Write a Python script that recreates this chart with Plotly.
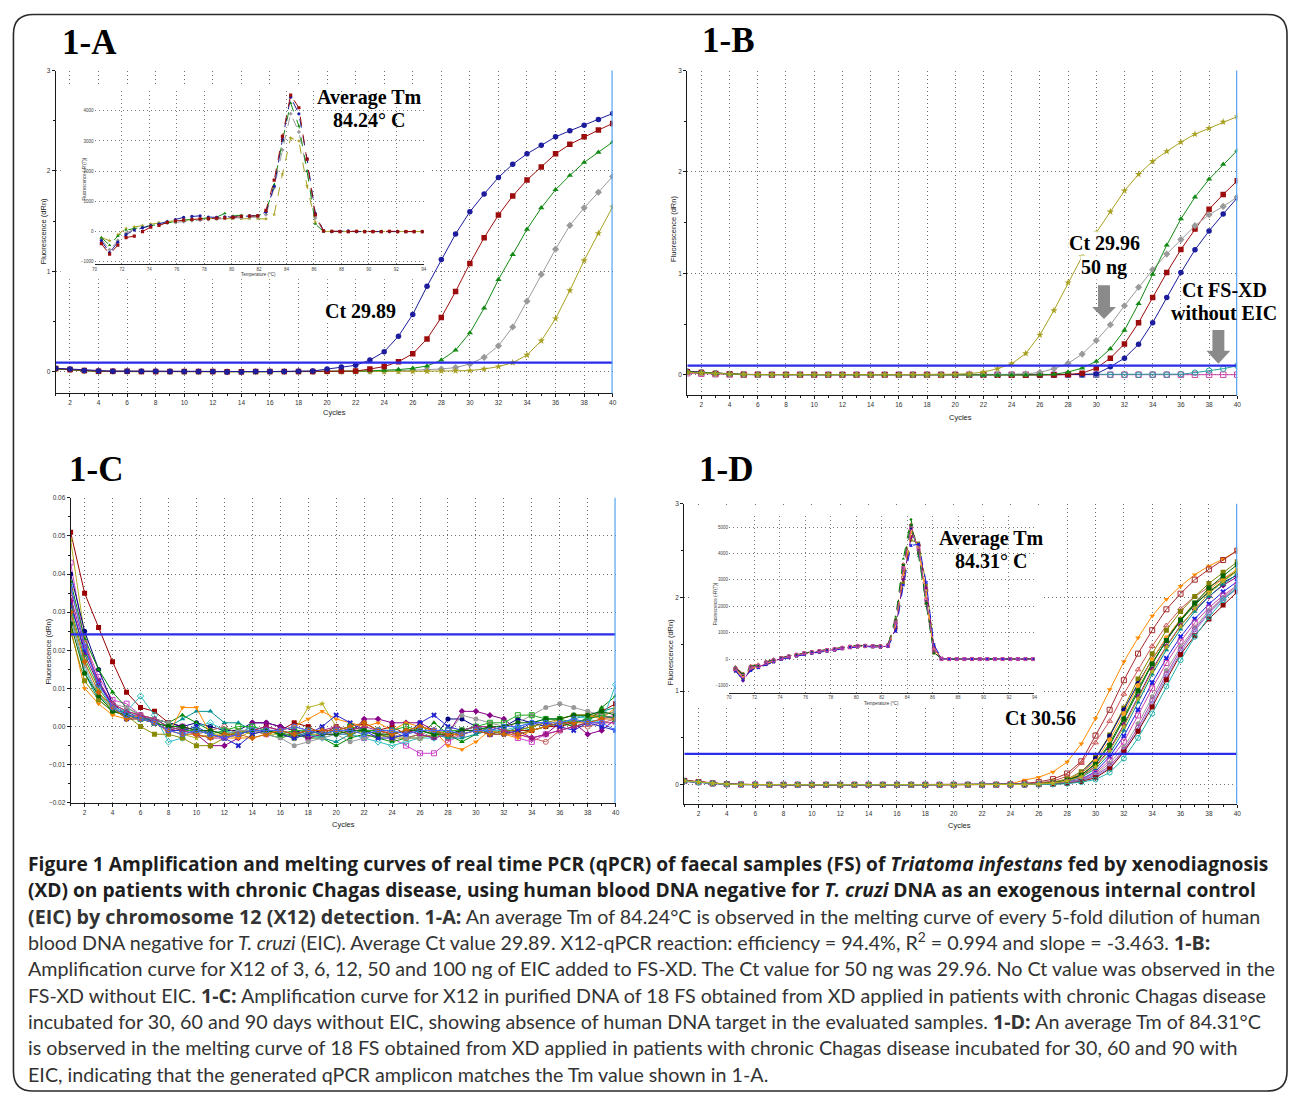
import plotly.graph_objects as go

W, H = 1293, 1095
def PX(x): return x / W
def PY(y): return 1 - y / H

CYCLES = list(range(1, 41))
TEMPS = [70.5, 71.1, 71.7, 72.3, 72.9, 73.5, 74.1, 74.7, 75.3, 75.9,
         76.5, 77.1, 77.7, 78.3, 78.9, 79.5, 80.1, 80.7, 81.3, 81.9,
         82.5, 83.1, 83.7, 84.3, 84.9, 85.5, 86.1, 86.7, 87.3, 87.9,
         88.5, 89.1, 89.7, 90.3, 90.9, 91.5, 92.1, 92.7, 93.3, 93.9]

# ---------------- Panel 1-A : amplification (milli-dRn) ----------------
A_blue = [33,26,12,5,4,4,3,3,2,2, 2,2,-4,-3,1,1,0,4,6,26, 46,63,115,198,353,570,850,1118,1372,1593,
          1770,1935,2067,2170,2255,2340,2400,2456,2512,2572]
A_red = [30,22,10,4,4,3,2,2,1,1, 0,0,-2,-2,0,1,1,2,2,4, 6,5,26,50,99,178,326,540,798,1078,
         1335,1560,1750,1910,2040,2170,2265,2340,2407,2473]
A_green = [28,20,8,3,3,2,1,1,0,0, 0,-1,-2,-1,0,0,0,0,1,2, 3,5,8,13,20,33,56,115,214,386,
           633,917,1167,1418,1632,1813,1955,2084,2186,2288]
A_gray = [26,18,7,2,2,1,1,0,0,-1, -1,-1,-2,-2,-1,0,0,0,0,1, 2,3,4,6,9,14,18,26,40,76,
          142,257,445,702,969,1220,1457,1632,1787,1945]
A_olive = [28,18,6,1,0,-1,-2,-2,-2,-3, -3,-3,-3,-3,-2,-2,-2,-2,-2,-1, -1,0,0,1,2,3,4,6,8,10,
           26,50,89,165,307,528,808,1108,1378,1642]
A_THRESHOLD = 0.09

# Panel 1-A inset : melting curves (-R'(T))
AM_blue = [-300,-700,-350,-100,50,120,200,250,330,400, 470,500,520,480,470,490,480,500,520,530,
           650,1500,3050,4450,3900,2400,600,20,0,10, 20,0,0,10,0,0,10,0,0,0]
AM_red = [-400,-750,-450,-200,-150,0,150,200,300,350, 380,400,420,430,440,450,470,500,510,520,
          700,1700,3150,4520,4100,2400,550,20,10,0, 0,10,0,0,0,10,0,0,0,0]
AM_green = [-200,-450,-150,50,100,150,200,250,300,330, 380,400,420,440,480,600,520,540,530,520,
            640,1550,3000,4250,3500,2000,250,0,0,0, 0,0,10,0,0,0,0,0,0,0]
AM_gray = [-250,-600,-300,-50,80,150,200,250,280,300, 330,360,380,400,420,440,450,460,470,480,
           560,1450,2700,3900,3300,2000,450,10,0,0, 0,0,0,0,0,0,0,0,0,0]
AM_olive = [-200,-300,-100,100,150,200,250,300,330,360, 380,400,420,430,430,430,430,430,430,430,
            420,570,1900,3100,3000,1500,300,0,0,0, 0,0,0,0,0,0,0,0,0,0]

# ---------------- Panel 1-B ----------------
B_olive = [22,16,10,6,3,1,0,0,0,0, 0,0,0,0,0,0,0,-1,0,5, 10,26,59,108,209,392,634,908,1167,1402,
           1608,1814,1977,2105,2203,2294,2373,2431,2493,2546]
B_gray = [25,18,10,5,2,1,0,0,0,0, 0,0,0,0,0,-1,-1,-2,-2,-3, -2,-1,0,2,8,23,59,111,203,337,
          493,680,863,1036,1190,1333,1470,1578,1660,1752]
B_green = [28,20,12,6,3,1,0,0,0,0, 0,0,0,0,0,-1,-2,-3,-4,-5, -5,-6,-7,-5,-3,-1,3,26,65,131,
           255,438,700,990,1278,1536,1752,1928,2075,2212]
B_red = [30,22,12,6,3,1,0,0,0,0, 0,0,0,0,0,0,-1,-1,-2,-3, -3,-4,-5,-6,-5,-3,-2,2,15,65,
         163,304,513,761,1007,1235,1438,1631,1778,1912]
B_blue = [35,25,14,7,3,1,0,0,0,0, 0,0,0,0,0,0,0,-1,-2,-3, -3,-2,-2,-3,-4,-3,-2,0,2,7,
          78,163,300,513,761,1007,1232,1418,1585,1745]
B_teal = [30,22,13,6,2,0,0,0,0,0, 0,0,0,0,0,0,0,0,0,0, 0,0,0,0,0,0,0,0,0,0,
          0,0,0,0,0,5,20,40,59,88]
B_magenta = [15,10,5,2,0,0,0,0,0,0, 0,0,0,0,0,0,0,0,0,0, 0,0,0,0,0,0,0,0,0,0,
             0,0,0,0,0,0,0,0,0,0]
B_THRESHOLD = 0.09

# ---------------- Panel 1-C (18 FS without EIC) ----------------
C1 = [51,35,26,17,9,5,4,1,0,-1, -2,-3,-2,-1,0,-1,1,0,-2,0, -1,1,-1,0,-2,0,-1,-3,-1,0, -2,-1,-1,-1,0,0,1,2,4,6]
C2 = [49,24,9,4,3,2,1,-1,-2,-3, -2,-2,-3,-1,-2,-2,-1,5,6,0, -1,-2,-3,-2,-1,0,-1,-2,-1,0, -1,-2,-1,0,1,0,2,1,2,3]
C3 = [43,22,13,7,6,3,1,-1,0,-1, -2,-3,-2,-1,-2,-1,-2,-3,-2,-1, -2,-3,-2,-3,-5,-7,-7,-4,-2,-1, -2,-1,-3,-4,-2,-1,0,1,2,3]
C4 = [40,25,15,6,3,2,2,1,0,1, 0,-1,-1,1,1,0,-1,-2,-1,-1, -2,-1,-1,-2,-1,-2,-3,2,2,0, -1,0,2,1,0,1,1,2,3,2]
C5 = [38,23,15,9,5,3,2,1,3,1, -1,-2,-1,-1,-2,-3,-2,-3,-3,-5, -3,-2,-3,-4,-3,-2,1,-2,-4,-2, 0,-1,-2,-1,0,1,0,1,5,8]
C6 = [36,22,11,6,4,3,1,-1,-1,-2, -1,0,-2,-1,-2,-1,0,-1,-2,-1, 0,-1,-2,-1,-3,-2,-1,-3,-2,-1, 0,-1,-2,-3,-4,-1,0,0,1,2]
C7 = [33,19,11,6,3,3,1,-1,0,-2, -5,-5,-3,1,1,0,-1,-3,-2,-2, -2,2,2,1,1,1,-1,-2,4,4, 3,2,-1,-3,-2,1,1,-2,-1,2]
C8 = [30,14,7,4,4,2,2,0,2,4, 4,1,1,-1,-1,-1,-2,-2,-3,-4, -2,-1,-2,-3,-2,-1,-2,-3,-3,-2, -1,-2,0,-1,0,1,2,3,4,5]
C9 = [29,15,8,5,4,8,3,-4,-3,0, 1,-1,-2,0,-1,-2,-3,-2,-3,-2, -2,-3,-4,-5,-4,-3,-3,-2,-1,0, -1,-1,0,1,2,2,3,2,1,11]
C10 = [26,10,6,3,2,3,2,-2,5,5, -2,-3,-3,-3,-2,-1,0,2,4,2, 1,0,1,-1,1,0,-1,-5,-6,-4, -1,-2,-3,-1,0,2,3,3,2,5]
C11 = [25,12,7,4,3,0,-2,-2,-3,-5, -5,-3,-1,-2,-1,-2,-3,-2,-2,-1, -2,-1,-2,-3,-3,-3,-2,-2,-2,-1, -2,-1,-1,0,1,2,3,3,3,4]
C12 = [28,16,8,6,5,3,2,1,-1,-2, -1,-2,-1,-1,-2,-3,-5,-4,-3,-2, -4,-3,-2,-2,-3,-3,-1,-2,3,2, 1,0,1,3,5,6,5,4,3,4]
C13 = [32,20,12,5,2,2,1,-1,-1,0, -2,-3,-5,-2,-1,-2,-3,-2,0,3, 1,-1,-3,-3,-2,1,3,0,-1,-1, -2,-2,-1,1,1,0,-1,1,0,-1]
C14 = [31,18,10,5,3,2,1,0,-1,-1, -2,-1,0,0,-1,-2,-1,-1,-2,-1, 0,-1,-1,-1,0,-1,-2,-1,-1,0, 1,1,3,3,2,2,1,2,3,2]
C15 = [34,21,12,6,4,3,2,0,-1,-2, -3,-3,-2,-1,0,-1,-2,-1,-1,0, -1,0,-1,-2,-1,-2,-3,-2,-1,0, 0,-1,-2,-3,-2,-1,0,1,1,1]
C16 = [27,14,8,4,3,2,1,0,0,-1, -1,-2,-2,-1,-1,-2,-2,-1,-2,-2, -1,-1,-2,-2,-1,-1,-2,-2,-1,-1, 0,0,1,1,2,2,3,3,4,3]
C17 = [30,17,9,5,2,2,1,-1,-2,-2, -3,-2,-2,-3,-2,-1,-2,-1,-1,-1, 0,1,-1,-2,-1,0,-1,-2,-2,-1, -2,-2,-2,-1,0,1,1,1,2,2]
C18 = [37,21,11,5,3,2,1,-1,-2,-1, -2,-3,-2,-1,-1,-1,0,-1,-2,-1, -1,-2,-1,-1,-2,-1,-1,-1,-2,-1, -1,0,0,1,1,1,2,1,1,-1]
C_THRESHOLD = 0.0242

# ---------------- Panel 1-D (18 FS with EIC) ----------------
D1 = [45,30,16,6,3,1,0,0,0,0, -1,-1,0,0,-1,0,0,0,-2,-2, 0,0,2,8, 50,80,137,243,437,708,1018,1313,1570,1803,1980,2120,2243,2335,2410,2500]
D2 = [40,28,14,6,3,1,0,0,0,0, 0,-1,0,0,0,0,-1,0,-1,0, 0,0,1,5, 15,30,60,120,250,525,800,1116,1400,1650,1873,2040,2190,2300,2400,2500]
D3 = [42,27,15,7,3,2,0,0,0,-1, 0,0,0,-1,0,0,0,0,-1,0, 0,0,1,3, 10,20,40,90,230,450,680,970,1230,1480,1700,1880,2010,2110,2200,2280]
D4 = [38,26,14,6,2,1,0,0,0,0, 0,0,-1,0,0,0,0,-1,0,0, 0,0,1,2, 5,15,30,60,140,290,530,820,1130,1400,1650,1850,2010,2150,2270,2380]
D5 = [44,29,15,6,3,1,0,0,-1,0, 0,0,0,0,-2,0,0,0,0,0, -1,0,0,2, 5,10,25,50,120,280,520,800,1080,1340,1560,1760,1930,2060,2160,2240]
D6 = [39,26,13,5,2,1,0,0,0,0, 0,-1,0,0,0,0,0,0,-1,0, 0,0,0,2, 4,10,20,45,100,230,440,720,1020,1300,1540,1750,1920,2060,2180,2290]
D7 = [41,28,14,6,3,1,0,0,0,0, 0,0,0,-1,0,0,0,0,0,-1, 0,0,0,1, 3,8,18,40,90,200,380,640,940,1230,1480,1700,1870,2010,2130,2220]
D8 = [37,25,13,5,2,1,0,0,0,0, 0,0,0,0,0,-1,0,0,0,0, 0,-1,0,1, 3,7,15,35,80,170,330,580,880,1180,1440,1660,1850,2010,2140,2250]
D9 = [43,29,15,6,3,1,0,0,0,0, 0,0,0,0,0,0,0,-1,0,-3, 0,0,1,2, 5,12,25,55,120,250,480,760,1060,1340,1570,1770,1940,2080,2200,2300]
D10 = [40,27,14,6,3,1,0,0,0,0, 0,0,0,0,0,0,0,0,0,0, 0,0,1,2, 4,10,22,50,105,220,420,700,1000,1290,1540,1760,1940,2100,2230,2350]
D11 = [36,24,12,5,2,1,0,0,0,0, 0,0,0,-1,0,0,0,0,0,0, 0,0,0,1, 2,6,12,28,60,140,300,520,800,1090,1350,1580,1770,1930,2060,2170]
D12 = [42,28,14,6,3,1,0,0,0,0, 0,0,0,0,0,0,0,0,0,0, 0,0,0,1, 2,5,10,25,55,125,260,460,740,1030,1300,1530,1730,1890,2020,2130]
D13 = [39,26,13,5,2,1,0,0,0,0, 0,0,0,0,0,0,0,0,0,0, 0,0,0,1, 2,5,10,22,50,110,230,400,650,940,1220,1470,1680,1860,2000,2120]
D14 = [41,27,14,6,3,1,0,0,0,0, 0,0,0,0,0,0,0,0,0,0, 0,0,0,0, 1,4,9,20,45,100,200,370,610,900,1180,1440,1660,1840,1990,2100]
D15 = [38,25,13,5,2,1,0,0,0,0, 0,0,0,0,0,0,0,0,0,0, 0,0,0,0, 1,4,8,18,40,90,180,350,580,860,1150,1410,1640,1830,1980,2090]
D16 = [46,31,16,7,3,1,0,0,0,0, 0,0,0,0,0,0,0,0,0,0, 0,0,0,0, 1,3,7,15,35,75,170,350,570,830,1120,1390,1590,1770,1920,2060]
D17 = [40,27,14,6,3,1,0,0,0,0, 0,0,0,0,0,0,0,0,0,0, 0,0,0,0, 0,2,5,12,28,55,130,280,500,760,1050,1330,1580,1790,1970,2110]
D18 = [42,28,14,6,3,1,0,0,0,0, 0,0,0,0,0,0,0,0,0,-1, 0,0,0,1, 3,8,18,40,85,190,360,620,920,1210,1470,1690,1880,2040,2170,2280]
D_THRESHOLD = 0.33

# Panel 1-D inset : melting curves
DM1 = [-350,-600,-300,-250,-120,-50,40,100,160,220, 260,300,340,380,430,470,500,500,490,480, 520,1300,3300,4900,4200,2300,300,0,0,0, 0,0,0,0,0,0,0,0,0,0]
DM2 = [-400,-700,-380,-300,-180,-80,10,80,140,200, 250,280,320,360,410,450,480,490,480,470, 500,1200,3100,4700,4300,2600,400,10,0,0, 0,0,0,0,0,0,0,0,0,0]
DM3 = [-300,-550,-250,-200,-100,0,60,120,180,240, 280,320,360,400,450,490,520,520,510,500, 560,1500,3600,5100,4000,2100,250,0,0,0, 0,0,0,0,0,0,0,0,0,0]
DM4 = [-450,-750,-420,-320,-200,-100,0,60,120,180, 230,270,310,350,400,440,470,480,470,460, 480,1100,2900,4500,4400,2800,500,20,0,0, 0,0,0,0,0,0,0,0,0,0]
DM5 = [-380,-650,-330,-270,-150,-60,30,90,150,210, 250,290,330,370,420,460,490,500,490,480, 510,1350,3400,4950,4100,2200,300,0,0,0, 0,0,0,0,0,0,0,0,0,0]
DM6 = [-320,-600,-280,-230,-110,-30,50,110,170,230, 270,310,350,390,440,480,510,510,500,490, 540,1600,3800,5300,3900,2000,200,0,0,0, 0,0,0,0,0,0,0,0,0,0]
DM7 = [-420,-820,-400,-300,-170,-70,20,80,140,200, 240,280,320,360,400,450,480,490,480,470, 490,1150,3000,4600,4300,2700,450,10,0,0, 0,0,0,0,0,0,0,0,0,0]
DM8 = [-360,-630,-310,-260,-130,-40,40,100,150,210, 250,290,330,370,420,460,490,500,490,480, 520,1400,3500,5000,4000,2100,280,0,0,0, 0,0,0,0,0,0,0,0,0,0]
DM9 = [-400,-680,-350,-280,-160,-70,20,90,150,200, 250,290,330,370,410,450,480,490,480,470, 500,1250,3200,4800,4250,2500,380,10,0,0, 0,0,0,0,0,0,0,0,0,0]
DM10 = [-340,-580,-290,-240,-120,-40,50,110,170,230, 270,310,350,390,430,470,500,510,500,490, 530,1450,3550,5050,4050,2150,260,0,0,0, 0,0,0,0,0,0,0,0,0,0]
DM11 = [-460,-780,-440,-330,-210,-110,-10,50,110,170, 220,260,300,340,390,430,460,470,460,450, 470,1050,2800,4300,4350,2900,550,30,0,0, 0,0,0,0,0,0,0,0,0,0]
DM12 = [-370,-640,-320,-260,-140,-50,30,100,160,220, 260,300,340,380,420,460,490,500,490,480, 510,1380,3450,4950,4150,2250,320,0,0,0, 0,0,0,0,0,0,0,0,0,0]

# series styles: (colour, symbol)
FIVE = [("#1c1c9c", "circle"), ("#9c0c0c", "square"), ("#138a13", "triangle-up"),
        ("#9a9a9a", "diamond"), ("#a8a020", "star")]
EIGHTEEN = [("#990000", "square"), ("#b5b020", "star"), ("#cc44cc", "square-open"),
            ("#000080", "circle"), ("#008800", "triangle-up"), ("#c06060", "circle-open"),
            ("#880088", "diamond"), ("#009090", "triangle-up"), ("#30c0c0", "diamond-open"),
            ("#ff8800", "triangle-down"), ("#8a8a00", "square"), ("#999999", "circle"),
            ("#2222cc", "x"), ("#22aa22", "square-open"), ("#aa2288", "triangle-up-open"),
            ("#006600", "circle"), ("#cc6600", "diamond"), ("#4466ff", "circle-open")]
D_STYLE = [("#ff8c00", "triangle-down"), ("#a52a2a", "square-open"), ("#cc5555", "triangle-up-open"),
           ("#808000", "square"), ("#000080", "circle"), ("#008000", "triangle-up"),
           ("#800080", "diamond"), ("#008b8b", "triangle-up"), ("#ffa020", "circle"),
           ("#006400", "square"), ("#1e1ee0", "x"), ("#cc44aa", "square-open"),
           ("#9a9a9a", "circle"), ("#b040b0", "circle-open"), ("#8888dd", "diamond-open"),
           ("#8b0000", "square"), ("#20b2aa", "circle-open"), ("#b8b020", "star")]

fig = go.Figure()

def add(xa, ya, xs, ys, style, size=5, lw=1, dash="solid", scale=1000.0):
    color, symbol = style
    is_open = symbol.endswith("-open")
    fig.add_trace(go.Scatter(
        x=xs, y=[v / scale for v in ys], xaxis=xa, yaxis=ya, mode="lines+markers",
        line=dict(color=color, width=lw, dash=dash),
        marker=dict(symbol=symbol, size=size, color=color,
                    line=dict(color=color, width=1 if is_open else 0)),
        hoverinfo="skip", showlegend=False))

def threshold(xa, ya, value):
    fig.add_trace(go.Scatter(x=[1, 40], y=[value, value], xaxis=xa, yaxis=ya, mode="lines",
                             line=dict(color="#2b2bea", width=2.2), hoverinfo="skip", showlegend=False))

# Panel A
for s, st in zip([A_gray, A_olive, A_green, A_red, A_blue], [FIVE[3], FIVE[4], FIVE[2], FIVE[1], FIVE[0]]):
    add("x", "y", CYCLES, s, st, size=5.5)
threshold("x", "y", A_THRESHOLD)

# Panel B
for s, st in zip([B_magenta, B_teal, B_blue, B_red, B_gray, B_green, B_olive],
                 [("#cc44aa", "square-open"), ("#20a0a0", "circle-open"), FIVE[0], FIVE[1],
                  FIVE[3], FIVE[2], FIVE[4]]):
    add("x2", "y2", CYCLES, s, st, size=5.5)
threshold("x2", "y2", B_THRESHOLD)

# Panel C
for s, st in zip([C1, C2, C3, C4, C5, C6, C7, C8, C9, C10, C11, C12, C13, C14, C15, C16, C17, C18], EIGHTEEN):
    add("x3", "y3", CYCLES, s, st, size=5)
threshold("x3", "y3", C_THRESHOLD)

# Panel D
for s, st in zip([D1, D2, D3, D4, D5, D6, D7, D8, D9, D10, D11, D12, D13, D14, D15, D16, D17, D18], D_STYLE):
    add("x4", "y4", CYCLES, s, st, size=5)
threshold("x4", "y4", D_THRESHOLD)

# white covers for the insets (own subplots drawn above the main panels)
for n in (5, 7):
    fig.add_trace(go.Scatter(x=[0, 1, 1, 0, 0], y=[0, 0, 1, 1, 0], xaxis=f"x{n}", yaxis=f"y{n}",
                             mode="lines", fill="toself", fillcolor="white",
                             line=dict(width=0, color="white"), hoverinfo="skip", showlegend=False))

# inset A
for s, st in zip([AM_olive, AM_gray, AM_green, AM_blue, AM_red], [FIVE[4], FIVE[3], FIVE[2], FIVE[0], FIVE[1]]):
    add("x6", "y6", TEMPS, s, st, size=3.2, lw=1, dash="dash", scale=1.0)

# inset D
for s, st in zip([DM1, DM2, DM3, DM4, DM5, DM6, DM7, DM8, DM9, DM10, DM11, DM12], D_STYLE):
    add("x8", "y8", TEMPS, s, st, size=3.0, lw=1, dash="dash", scale=1.0)

# ---------------- axes ----------------
TF = dict(family="Liberation Sans, Arial", size=6.5, color="#333")
GRID_DASH = "1px,3px"
common = dict(showgrid=True, gridcolor="#6e6e6e", griddash=GRID_DASH, gridwidth=1, zeroline=False,
              showline=True, linecolor="#1a1a1a", linewidth=1, ticks="outside", ticklen=3,
              tickcolor="#1a1a1a", tickwidth=1, tickfont=TF, fixedrange=True)

def main_x(n, x0, x1):
    return dict(common, domain=[PX(x0), PX(x1)], range=[1, 40], anchor="y" if n == 1 else f"y{n}",
                tickmode="linear", tick0=0, dtick=2,
                minor=dict(tick0=0, dtick=1, ticks="outside", ticklen=2, tickcolor="#1a1a1a", showgrid=False))

def main_y(n, y_bottom, y_top, rng, dtick, fmt=None, minor_dt=None):
    d = dict(common, domain=[PY(y_bottom), PY(y_top)], range=rng, anchor="x" if n == 1 else f"x{n}",
             tickmode="linear", tick0=0, dtick=dtick,
             minor=dict(tick0=0, dtick=minor_dt, ticks="outside", ticklen=2, tickcolor="#1a1a1a", showgrid=False))
    if fmt:
        d["tickformat"] = fmt
    return d

inset_tf = dict(family="Liberation Sans, Arial", size=4.5, color="#444")
inset_common = dict(showgrid=True, gridcolor="#7a7a7a", griddash=GRID_DASH, gridwidth=1, zeroline=False,
                    ticks="", tickfont=inset_tf, fixedrange=True)
hidden = dict(visible=False, range=[0, 1], fixedrange=True)

layout_axes = dict(
    xaxis=main_x(1, 53, 613), yaxis=main_y(1, 392, 67, [-0.218, 3.0], 1, None, 0.5),
    xaxis2=main_x(2, 688, 1241), yaxis2=main_y(2, 394, 67, [-0.205, 3.0], 1, None, 0.5),
    xaxis3=main_x(3, 68, 616), yaxis3=main_y(3, 804, 497, [-0.02, 0.06], 0.01, ".2f", 0.005),
    xaxis4=main_x(4, 685, 1241), yaxis4=main_y(4, 805, 503, [-0.204, 3.0], 1, None, 0.5),
    xaxis5=dict(hidden, domain=[PX(58), PX(429)], anchor="y5"),
    yaxis5=dict(hidden, domain=[PY(277), PY(83)], anchor="x5"),
    xaxis6=dict(inset_common, domain=[PX(92), PX(423)], range=[70, 94], anchor="y6", tickmode="linear",
                tick0=70, dtick=2, showline=True, linecolor="#222", linewidth=1),
    yaxis6=dict(inset_common, domain=[PY(262), PY(88)], range=[-1085, 4640], anchor="x6", tickmode="linear",
                tick0=0, dtick=1000, showline=False),
    xaxis7=dict(hidden, domain=[PX(690), PX(1045)], anchor="y7"),
    yaxis7=dict(hidden, domain=[PY(706), PY(506)], anchor="x7"),
    xaxis8=dict(inset_common, domain=[PX(730), PX(1037)], range=[70, 94], anchor="y8", tickmode="linear",
                tick0=70, dtick=2, showline=True, linecolor="#222", linewidth=1),
    yaxis8=dict(inset_common, domain=[PY(693), PY(515)], range=[-1270, 5430], anchor="x8", tickmode="linear",
                tick0=0, dtick=1000, showline=False),
)

# ---------------- annotations ----------------
ann = []
def text(x, y, t, size, family="Liberation Serif", color="#000", xanchor="center", angle=0, bg=None):
    a = dict(x=PX(x), y=PY(y), xref="paper", yref="paper", text=t, showarrow=False,
             xanchor=xanchor, yanchor="middle", textangle=angle,
             font=dict(family=family, size=size, color=color))
    if bg:
        a["bgcolor"] = bg
        a["borderpad"] = 0
    ann.append(a)

for lbl, x, y in [("1-A", 57, 39), ("1-B", 701, 37), ("1-C", 64, 468), ("1-D", 698, 468)]:
    text(x, y, f"<b>{lbl}</b>", 35, xanchor="left")

text(368, 94, "<b>Average Tm</b>", 20)
text(368, 117, "<b>84.24° C</b>", 20)
text(359, 309, "<b>Ct 29.89</b>", 20, bg="white")
text(1107, 241, "<b>Ct 29.96</b>", 20, bg="white")
text(1107, 265, "<b>50 ng</b>", 20, bg="white")
text(1228, 288, "<b>Ct FS-XD</b>", 20)
text(1228, 311, "<b>without EIC</b>", 20)
text(994, 538, "<b>Average Tm</b>", 20)
text(993, 561, "<b>84.31° C</b>", 20)
text(1043, 719, "<b>Ct 30.56</b>", 20, bg="white")

SANS = "Liberation Sans, Arial"
for x, y in [(41, 229), (674, 226), (46, 652), (671, 652)]:
    text(x, y, "Fluorescence (dRn)", 7.5, family=SANS, color="#222", angle=-90)
for x, y in [(333, 411), (963, 416), (342, 826), (962, 827)]:
    text(x, y, "Cycles", 7.5, family=SANS, color="#222")
for x, y in [(82, 176), (716, 604)]:
    text(x, y, "Fluorescence (-R'(T))", 4.5, family=SANS, color="#333", angle=-90)
for x, y in [(257, 272), (883, 704)]:
    text(x, y, "Temperature (°C)", 4.5, family=SANS, color="#333")

def BOLD(t):
    return f'<b><span style="font-family:Open Sans">{t}</span></b>'

CAPTION_BOLD = [
    "Figure 1 Amplification and melting curves of real time PCR (qPCR) of faecal samples (FS) of <i>Triatoma infestans</i> fed by xenodiagnosis",
    "(XD) on patients with chronic Chagas disease, using human blood DNA negative for <i>T. cruzi</i> DNA as an exogenous internal control",
]
CAPTION = [
    BOLD("(EIC) by chromosome 12 (X12) detection") + ". " + BOLD("1-A:") +
    " An average Tm of 84.24°C is observed in the melting curve of every 5-fold dilution of human",
    "blood DNA negative for <i>T. cruzi</i> (EIC). Average Ct value 29.89. X12-qPCR reaction: efficiency = 94.4%, R<sup>2</sup> = 0.994 and slope = -3.463. " + BOLD("1-B:"),
    "Amplification curve for X12 of 3, 6, 12, 50 and 100 ng of EIC added to FS-XD. The Ct value for 50 ng was 29.96. No Ct value was observed in the",
    "FS-XD without EIC. " + BOLD("1-C:") + " Amplification curve for X12 in purified DNA of 18 FS obtained from XD applied in patients with chronic Chagas disease",
    "incubated for 30, 60 and 90 days without EIC, showing absence of human DNA target in the evaluated samples. " + BOLD("1-D:") + " An average Tm of 84.31°C",
    "is observed in the melting curve of 18 FS obtained from XD applied in patients with chronic Chagas disease incubated for 30, 60 and 90 with",
    "EIC, indicating that the generated qPCR amplicon matches the Tm value shown in 1-A.",
]
for i, line in enumerate(CAPTION_BOLD):
    text(23, 865 + i * 26.5, f"<b>{line}</b>", 19.2, family="Open Sans", color="#1e1e1e", xanchor="left")
for i, line in enumerate(CAPTION):
    text(23, 865 + (i + 2) * 26.5, line, 19.7, family="Lato", color="#333", xanchor="left")

# ---------------- shapes ----------------
shapes = []
for xa, ya in [("x", "y"), ("x2", "y2"), ("x3", "y3"), ("x4", "y4")]:
    shapes.append(dict(type="line", xref=xa, yref=f"{ya} domain", x0=40, x1=40, y0=0, y1=1,
                       line=dict(color="#5aa8f5", width=2.5), layer="above"))

def P(x, y):
    return f"{PX(x):.5f},{PY(y):.5f}"

def arrow(cx, top, base, tip, sw, hw):
    pts = [(cx - sw / 2, top), (cx + sw / 2, top), (cx + sw / 2, base), (cx + hw / 2, base),
           (cx, tip), (cx - hw / 2, base), (cx - sw / 2, base)]
    return "M " + " L ".join(P(x, y) for x, y in pts) + " Z"

for cx, top, base, tip in [(1107, 283, 305, 317), (1222, 328, 349, 362)]:
    shapes.append(dict(type="path", xref="paper", yref="paper", path=arrow(cx, top, base, tip, 12, 24),
                       fillcolor="#8a8a8a", line=dict(width=0), layer="above"))

x0, y0, x1, y1, r = 10.5, 10.5, 1291, 1094, 20
border = (f"M {P(x0 + r, y0)} L {P(x1 - r, y0)} Q {P(x1, y0)} {P(x1, y0 + r)} "
          f"L {P(x1, y1 - r)} Q {P(x1, y1)} {P(x1 - r, y1)} L {P(x0 + r, y1)} "
          f"Q {P(x0, y1)} {P(x0, y1 - r)} L {P(x0, y0 + r)} Q {P(x0, y0)} {P(x0 + r, y0)} Z")
shapes.append(dict(type="path", xref="paper", yref="paper", path=border,
                   line=dict(color="#2a2a2a", width=1.6), layer="above"))

fig.update_layout(width=W, height=H, autosize=False, margin=dict(l=0, r=0, t=0, b=0),
                  paper_bgcolor="white", plot_bgcolor="white", showlegend=False,
                  annotations=ann, shapes=shapes, **layout_axes)

fig.write_html("out.html", config={"displayModeBar": False},
               post_script="document.body.style.margin='0px';document.body.style.overflow='hidden';")
